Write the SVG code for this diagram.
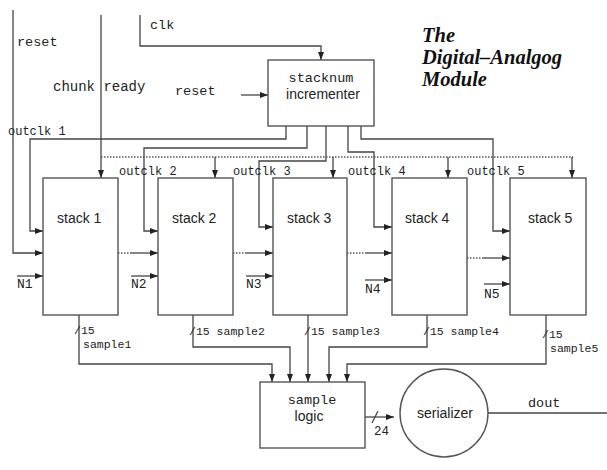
<svg xmlns="http://www.w3.org/2000/svg" width="607" height="470" viewBox="0 0 607 470">
<style>
.w{fill:none;stroke:#444;stroke-width:1.3}
.d{fill:none;stroke:#555;stroke-width:1.3;stroke-dasharray:1.5 1.5}
.a{marker-end:url(#ah)}
.box{fill:#fff;stroke:#555;stroke-width:1.4}
.m{font-family:"Liberation Mono",monospace;fill:#222}
.s{font-family:"Liberation Sans",Arial,sans-serif;fill:#222;font-size:14px}
.t{font-family:"Liberation Serif","Times New Roman",serif;font-weight:bold;font-style:italic;font-size:20.5px;fill:#111}
</style>
<defs>
<marker id="ah" markerUnits="userSpaceOnUse" markerWidth="8" markerHeight="6" refX="8" refY="3" orient="auto">
<path d="M0,0 L8,3 L0,6 z" fill="#222"/>
</marker>
</defs>
<g id="connectors">
<path class="w a" d="M13,10 V253 H43"/>
<path class="w a" d="M101,15 V178"/>
<path class="w a" d="M140,15 V46 H321 V60"/>
<path class="w a" d="M241,95 H268"/>
<path class="w a" d="M286,126 V139 H30 V231 H43"/>
<path class="w a" d="M307,126 V148 H144 V231 H158"/>
<path class="w a" d="M326,126 V161 H259 V227 H273"/>
<path class="w a" d="M348,126 V152 H374 V227 H392"/>
<path class="w a" d="M361,126 V139 H493 V231 H510"/>
<path class="d" d="M101,157 H573"/>
<path class="w a" d="M215,157 V178"/>
<path class="w a" d="M333,157 V178"/>
<path class="w a" d="M448,157 V178"/>
<path class="w a" d="M572,157 V178"/>
<path class="d" d="M118,253 H131"/>
<path class="w a" d="M131,253 H158"/>
<path class="d" d="M233,253 H246"/>
<path class="w a" d="M246,253 H273"/>
<path class="d" d="M347,253 H365"/>
<path class="w a" d="M365,253 H392"/>
<path class="d" d="M467,258 H483"/>
<path class="w a" d="M483,258 H510"/>
<path class="w a" d="M17,276 H43"/>
<path class="w a" d="M131,276 H158"/>
<path class="w a" d="M246,276 H273"/>
<path class="w a" d="M365,280 H392"/>
<path class="w a" d="M484,284 H510"/>
<path class="w a" d="M79,315 V364 H272 V382"/>
<path class="w a" d="M193,315 V347 H290 V382"/>
<path class="w a" d="M308,315 V382"/>
<path class="w a" d="M427,315 V347 H329 V382"/>
<path class="w a" d="M546,315 V364 H347 V382"/>
<path class="w a" d="M365,417 H394"/>
<path class="w" d="M372,423 L378,411"/>
<path class="w" d="M488,413 H607"/>
</g>
<g id="labels">
<text class="m" x="17" y="46" font-size="13.5">reset</text>
<text class="m" x="53" y="91" font-size="14">chunk ready</text>
<text class="m" x="150" y="29" font-size="13.5">clk</text>
<text class="m" x="175" y="95" font-size="13.5">reset</text>
<text class="m" x="8" y="135" font-size="12">outclk 1</text>
<text class="m" x="119" y="175" font-size="12">outclk 2</text>
<text class="m" x="233" y="175" font-size="12">outclk 3</text>
<text class="m" x="348" y="175" font-size="12">outclk 4</text>
<text class="m" x="467" y="175" font-size="12">outclk 5</text>
<text class="m" x="17" y="288" font-size="13">N1</text>
<text class="m" x="131" y="288" font-size="13">N2</text>
<text class="m" x="246" y="288" font-size="13">N3</text>
<text class="m" x="365" y="293" font-size="13">N4</text>
<text class="m" x="484" y="298" font-size="13">N5</text>
<text class="m" x="74" y="334" font-size="11.5">/15</text>
<text class="m" x="83" y="348" font-size="11.5">sample1</text>
<text class="m" x="189" y="335" font-size="11.5">/15 sample2</text>
<text class="m" x="304" y="335" font-size="11.5">/15 sample3</text>
<text class="m" x="423" y="335" font-size="11.5">/15 sample4</text>
<text class="m" x="542" y="338" font-size="11.5">/15</text>
<text class="m" x="550" y="352" font-size="11.5">sample5</text>
<text class="m" x="374" y="435" font-size="12.5">24</text>
<text class="m" x="528" y="407" font-size="13.5">dout</text>
</g>
<g id="title">
<text class="t" x="422" y="42">The</text>
<text class="t" x="422" y="64">Digital–Analgog</text>
<text class="t" x="422" y="86">Module</text>
</g>
<g id="stacknum">
<rect class="box" x="268" y="60" width="106" height="66"/>
<text class="m" x="321" y="82" font-size="13.5" text-anchor="middle">stacknum</text>
<text class="s" x="323" y="99" text-anchor="middle">incrementer</text>
</g>
<g id="stack1"><rect class="box" x="43" y="178" width="75" height="137"/><text class="s" x="57" y="223">stack 1</text></g>
<g id="stack2"><rect class="box" x="158" y="178" width="75" height="137"/><text class="s" x="172" y="223">stack 2</text></g>
<g id="stack3"><rect class="box" x="273" y="178" width="74" height="137"/><text class="s" x="287" y="223">stack 3</text></g>
<g id="stack4"><rect class="box" x="392" y="178" width="75" height="137"/><text class="s" x="405" y="223">stack 4</text></g>
<g id="stack5"><rect class="box" x="510" y="178" width="76" height="137"/><text class="s" x="528" y="223">stack 5</text></g>
<g id="samplelogic">
<rect class="box" x="260" y="382" width="105" height="66"/>
<text class="m" x="312" y="404" font-size="13.5" text-anchor="middle">sample</text>
<text class="s" x="309" y="421" text-anchor="middle">logic</text>
</g>
<g id="serializer">
<circle class="box" cx="444" cy="413" r="44"/>
<text class="s" x="445" y="418" text-anchor="middle">serializer</text>
</g>
</svg>
